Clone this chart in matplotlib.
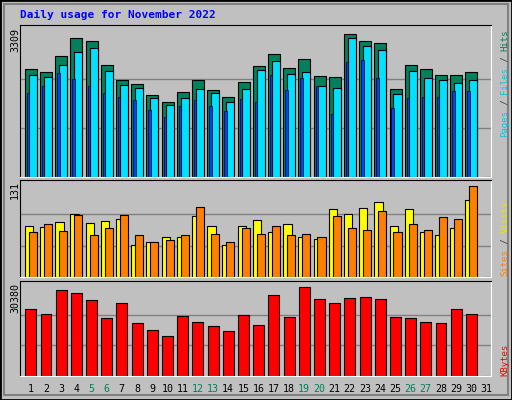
import numpy as np
import matplotlib
matplotlib.use("Agg")
import matplotlib.pyplot as plt
from matplotlib.patches import Rectangle

# === Datos ===
days = np.arange(1, 32)
hits = [2429, 2364, 2713, 3127, 3040, 2516, 2167, 2080, 1840, 1687, 1905, 2167, 1949, 1796, 2124,
        2495, 2756, 2451, 2647, 2255, 2233, 3215, 3040, 2996, 1971, 2516, 2429, 2298, 2298, 2364, 0]
files = [2298, 2233, 2516, 2800, 2887, 2385, 2058, 1993, 1775, 1622, 1775, 1971, 1884, 1687, 1971,
         2407, 2604, 2320, 2364, 2036, 1993, 3127, 2931, 2844, 1862, 2385, 2211, 2167, 2102, 2167, 0]
pages = [1891, 2036, 2342, 2189, 2036, 1891, 1796, 1731, 1513, 1338, 1600, 1731, 1600, 1491, 1753,
         1687, 2298, 1949, 2211, 2036, 1404, 2582, 2626, 2211, 1556, 1775, 1796, 1796, 1927, 1927, 0]
sites = [71, 70, 77, 88, 75, 78, 81, 44, 49, 56, 56, 85, 71, 44, 71,
         79, 63, 74, 56, 53, 94, 88, 96, 104, 71, 94, 62, 59, 68, 107, 0]
visits = [63, 74, 64, 86, 58, 68, 86, 58, 48, 52, 59, 97, 60, 48, 68,
          60, 71, 59, 60, 55, 85, 68, 66, 92, 62, 74, 66, 84, 81, 126, 0]
kbytes = [21935, 20437, 28355, 27392, 25145, 19046, 24182, 17441, 15194, 13268, 19688, 17762, 16478, 14873, 20009,
          16799, 26750, 19367, 29318, 25466, 24182, 25787, 26108, 25466, 19367, 19046, 17762, 17441, 21935, 20437, 0]
max_hits, max_visits, max_kb = 3309, 131, 30380
weekend = [5, 6, 12, 13, 19, 20, 26, 27]

BG = '#C0C0C0'
W, H = 512, 400
fig = plt.figure(figsize=(W / 100, H / 100), dpi=100, facecolor=BG)
MONO = 'DejaVu Sans Mono'

def px_axes(x0, y0, x1, y1):
    return fig.add_axes([x0 / W, 1 - y1 / H, (x1 - x0) / W, (y1 - y0) / H])

def estilo(ax, ymax):
    ax.set_facecolor(BG)
    ax.set_xlim(0.3, 31.3)
    ax.set_ylim(0, ymax * 1.03)
    ax.set_xticks([])
    ax.set_yticks([])
    for y in (ymax / 3, 2 * ymax / 3):
        ax.axhline(y, color='#808080', lw=1, zorder=0)
    ax.spines['top'].set_color('black')
    ax.spines['left'].set_color('black')
    ax.spines['bottom'].set_color('white')
    ax.spines['right'].set_color('white')

ek = dict(edgecolor='black', linewidth=0.8, align='edge')

# === Panel superior: hits / files / pages ===
ax1 = px_axes(20, 25, 491, 177)
estilo(ax1, max_hits)
ax1.bar(days - 0.38, hits, width=0.79, color='#00805C', **ek)
ax1.bar(days - 0.12, files, width=0.53, color='#00E0FF', **ek)
ax1.bar(days - 0.25, pages, width=0.16, color='#0040FF', edgecolor='black', linewidth=0.5, align='edge')

# === Panel medio: sites / visits ===
ax2 = px_axes(20, 180, 491, 277)
estilo(ax2, max_visits)
ax2.bar(days - 0.38, sites, width=0.55, color='#FFFF00', **ek)
ax2.bar(days - 0.12, visits, width=0.53, color='#FF8000', **ek)

# === Panel inferior: kbytes ===
ax3 = px_axes(20, 281, 491, 376)
estilo(ax3, max_kb)
ax3.bar(days - 0.35, kbytes, width=0.72, color='#FF0000', **ek)

# === Etiquetas del eje x ===
for d in days:
    col = '#00805C' if d in weekend else 'black'
    x = 20 + (d - 0.3) * (471 / 31)
    fig.text(x / W, 1 - 389 / H, str(d), color=col, ha='center', va='center',
             family=MONO, fontsize=7.2)

# === Titulo y maximos ===
fig.text(20 / W, 1 - 15 / H, 'Daily usage for November 2022', color='#0000FF',
         family=MONO, fontweight='bold', fontsize=8, va='center')
for txt, ytop in (('3309', 28), ('131', 181), ('30380', 283)):
    fig.text(15 / W, 1 - ytop / H, txt, rotation=90, ha='center', va='top',
             family=MONO, fontsize=7.2)

# === Leyendas verticales a la derecha ===
CH = 5.4
def leyenda(segs, ybot):
    n = 0
    for txt, col in segs:
        fig.text(505 / W, 1 - (ybot - n * CH) / H, txt, rotation=90, color=col,
                 ha='center', va='bottom', family=MONO, fontsize=6.5)
        n += len(txt)

leyenda([('Pages', '#00C8E8'), (' / ', '#404040'), ('Files', '#00C8E8'),
         (' / ', '#404040'), ('Hits', '#00805C')], 137)
leyenda([('Sites', '#FF8000'), (' / ', '#404040'), ('Visits', '#E8E800')], 276)
leyenda([('KBytes', '#FF0000')], 376)

# === Marco 3D ===
fig.patches.append(Rectangle((0, 0), 1, 1, transform=fig.transFigure, fill=False,
                             edgecolor='black', linewidth=2))
fig.patches.append(Rectangle((4 / W, 5 / H), 1 - 8 / W, 1 - 9 / H, transform=fig.transFigure,
                             fill=False, edgecolor='#808080', linewidth=1.5))

fig.savefig('out.png', dpi=100, facecolor=BG)
